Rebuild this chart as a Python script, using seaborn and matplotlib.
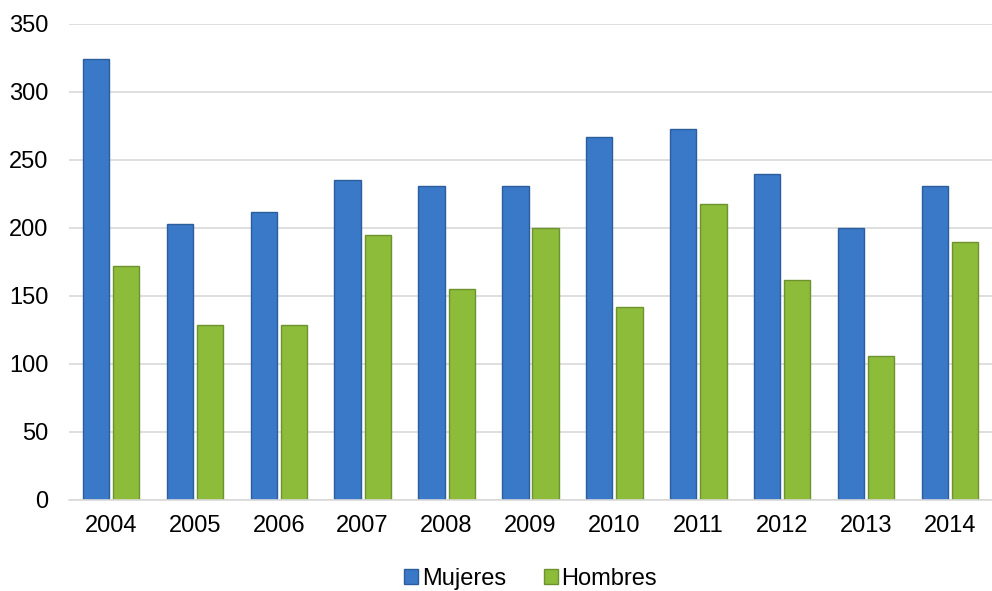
import pandas as pd
import matplotlib.pyplot as plt
import seaborn as sns

anios = ["2004", "2005", "2006", "2007", "2008", "2009", "2010", "2011", "2012", "2013", "2014"]
mujeres = [324, 203, 212, 235, 231, 231, 267, 273, 240, 200, 231]
hombres = [172, 129, 129, 195, 155, 200, 142, 218, 162, 106, 190]

df = pd.DataFrame({
    "anio": anios * 2,
    "valor": mujeres + hombres,
    "sexo": ["Mujeres"] * len(anios) + ["Hombres"] * len(anios),
})

sns.set_style("white")
plt.rcParams["font.family"] = ["Liberation Sans", "DejaVu Sans"]

fig = plt.figure(figsize=(9.92, 5.91), dpi=100)
ax = fig.add_axes([69 / 992, 91 / 591, 923 / 992, 476 / 591])

sns.barplot(data=df, x="anio", y="valor", hue="sexo",
            palette={"Mujeres": "#3a78c8", "Hombres": "#8dbb3a"},
            saturation=1, width=0.72, gap=0.13, edgecolor="none", ax=ax)

# borde un poco más oscuro para imitar el relieve
for bar in ax.patches:
    fc = bar.get_facecolor()
    bar.set_edgecolor(tuple(c * 0.78 for c in fc[:3]))
    bar.set_linewidth(1.0)

ax.set_ylim(0, 350)
ax.set_yticks(range(0, 351, 50))
ax.set_xlim(-0.5, len(anios) - 0.5)
ax.yaxis.grid(True, color="#d9d9d9", linewidth=1.2)
ax.set_axisbelow(True)
for s in ["top", "right", "left"]:
    ax.spines[s].set_visible(False)
ax.spines["bottom"].set_color("#d9d9d9")
ax.spines["bottom"].set_linewidth(1.2)
ax.set_xlabel("")
ax.set_ylabel("")
ax.tick_params(axis="both", labelsize=17, length=0, colors="black")
ax.tick_params(axis="x", pad=11)
ax.tick_params(axis="y", pad=15)

ax.legend(loc="center", bbox_to_anchor=(0.5, -0.165), ncol=2, frameon=False,
          fontsize=17, labelcolor="black", handlelength=0.6, handleheight=0.6,
          handletextpad=0.15, columnspacing=1.6)

plt.savefig("out.png", dpi=100)
